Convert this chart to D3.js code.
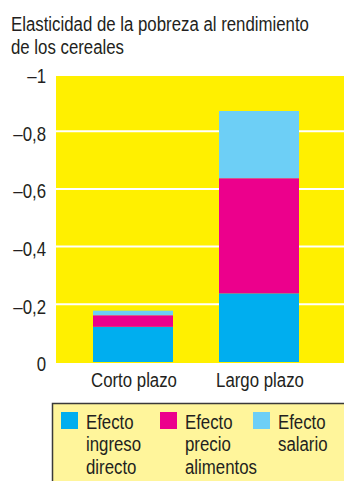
<!DOCTYPE html>
<html><head><meta charset="utf-8">
<script src="https://cdn.jsdelivr.net/npm/d3@7"></script>
<style>
html,body{margin:0;padding:0;background:#fff;}
svg{display:block;}
text{font-family:"Liberation Sans",Arial,sans-serif;fill:#231f20;}
</style></head>
<body>
<script>
const categories = ["Corto plazo", "Largo plazo"];
const seriesNames = ["Efecto ingreso directo", "Efecto precio alimentos", "Efecto salario"];
const legendLines = [["Efecto","ingreso","directo"],["Efecto","precio","alimentos"],["Efecto","salario"]];
const ingresoDirecto = [0.122, 0.238];
const precioAlimentos = [0.040, 0.399];
const salario = [0.016, 0.233];
const tickValues = [0, 0.2, 0.4, 0.6, 0.8, 1];
const tickLabels = ["0", "\u20130,2", "\u20130,4", "\u20130,6", "\u20130,8", "\u20131"];
const titleLines = ["Elasticidad de la pobreza al rendimiento", "de los cereales"];
const colors = ["#00aeef", "#ec008c", "#6dcff6"];

const W = 344, H = 481;
const svg = d3.select("body").append("svg").attr("width", W).attr("height", H);

const plotLeft = 56, plotRight = 344, plotTop = 76, plotBottom = 362;
const y = d3.scaleLinear().domain([0, 1]).range([plotBottom, 73.5]);
const x = d3.scaleBand().domain(categories).range([70, 322]).paddingInner(0.365).paddingOuter(0.1825);

// title
const title = svg.append("g").selectAll("text").data(titleLines).join("text")
  .attr("x", 11).attr("y", (d, i) => 31.5 + i * 22.5)
  .style("font-size", "20px").text(d => d);

// plot background
svg.append("rect").attr("x", plotLeft).attr("y", plotTop)
  .attr("width", plotRight - plotLeft).attr("height", plotBottom - plotTop + 1)
  .attr("fill", "#fff000");

// gridlines
svg.append("g").selectAll("line").data(tickValues.filter(v => v > 0 && v < 1)).join("line")
  .attr("x1", plotLeft).attr("x2", plotRight)
  .attr("y1", d => y(d)).attr("y2", d => y(d))
  .attr("stroke", "#fff").attr("stroke-width", 2);

// y axis labels
const yAxis = d3.axisLeft(y).tickValues(tickValues).tickFormat((d, i) => tickLabels[i]).tickSize(0).tickPadding(0);
const ya = svg.append("g").attr("transform", "translate(46,2.5)").call(yAxis);
ya.select(".domain").remove();
ya.selectAll("text").style("font-size", "20px").attr("fill", "#231f20").style("font-family", null);

// stacked bars
const rows = categories.map((c, i) => ({cat: c, s0: ingresoDirecto[i], s1: precioAlimentos[i], s2: salario[i]}));
const stack = d3.stack().keys(["s0", "s1", "s2"])(rows);
svg.append("g").selectAll("g").data(stack).join("g")
  .attr("fill", (d, i) => colors[i])
  .selectAll("rect").data(d => d).join("rect")
  .attr("x", d => x(d.data.cat)).attr("width", x.bandwidth())
  .attr("y", d => y(d[1])).attr("height", d => y(d[0]) - y(d[1]));

// x axis labels
const xAxis = d3.axisBottom(x).tickSize(0).tickPadding(0);
const xa = svg.append("g").attr("transform", "translate(1,373)").call(xAxis);
xa.select(".domain").remove();
xa.selectAll("text").style("font-size", "20px").attr("fill", "#231f20").style("font-family", null);

// legend
const lg = svg.append("g");
lg.append("rect").attr("x", 52.5).attr("y", 403.5).attr("width", 300).attr("height", 100)
  .attr("fill", "#fff59b").attr("stroke", "#3a3a3a").attr("stroke-width", 1.5);
const lx = [61, 160, 253];
const items = lg.selectAll("g.item").data(seriesNames).join("g").attr("class", "item")
  .attr("transform", (d, i) => `translate(${lx[i]},412)`);
items.append("rect").attr("width", 17).attr("height", 17).attr("fill", (d, i) => colors[i]);
items.each(function(d, i) {
  d3.select(this).selectAll("text").data(legendLines[i]).join("text")
    .attr("x", 25).attr("y", (t, j) => 16.5 + j * 23)
    .style("font-size", "20px").text(t => t);
});

// condense all text horizontally (reference uses a condensed face)
const k = 298 / title.node().getComputedTextLength();
svg.selectAll("text").each(function() {
  const ax = +(this.getAttribute("x") || 0);
  d3.select(this).attr("transform", `translate(${ax},0) scale(${k},1) translate(${-ax},0)`);
});
</script>
</body></html>
